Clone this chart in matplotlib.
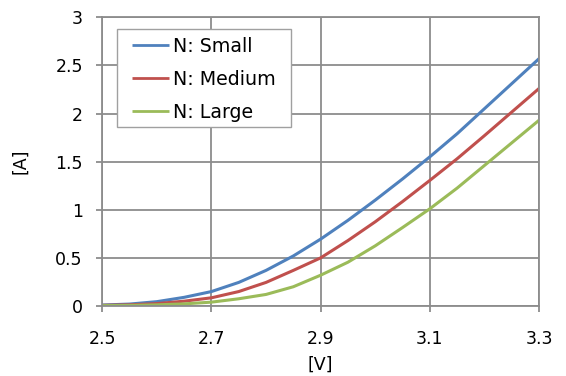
import numpy as np
import matplotlib.pyplot as plt
from matplotlib.patches import Rectangle

# values
voltage = [2.50, 2.55, 2.60, 2.65, 2.70, 2.75, 2.80, 2.85, 2.90, 2.95,
           3.00, 3.05, 3.10, 3.15, 3.20, 3.25, 3.30]
current_small = [0.01, 0.02, 0.045, 0.09, 0.15, 0.245, 0.37, 0.52, 0.695, 0.89,
                 1.10, 1.32, 1.55, 1.79, 2.05, 2.31, 2.57]
current_medium = [0.007, 0.012, 0.025, 0.05, 0.085, 0.15, 0.245, 0.37, 0.50, 0.68,
                  0.875, 1.085, 1.305, 1.53, 1.77, 2.015, 2.26]
current_large = [0.004, 0.006, 0.012, 0.022, 0.04, 0.075, 0.12, 0.20, 0.32, 0.455,
                 0.625, 0.815, 1.01, 1.225, 1.46, 1.695, 1.93]

series = [
    ("N: Small", current_small, "#4F81BD"),
    ("N: Medium", current_medium, "#C0504D"),
    ("N: Large", current_large, "#9BBB59"),
]

grid_color = "#8C8C8C"
tick_size = 12.5
legend_size = 13.7

plt.rcParams["font.family"] = ["DejaVu Sans"]

fig = plt.figure(figsize=(5.66, 3.76), dpi=100)
ax = fig.add_axes([0.1807, 0.1862, 0.7716, 0.7678])

for label, values, color in series:
    ax.plot(voltage, values, color=color, linewidth=2.2, label=label,
            solid_capstyle="butt")

ax.set_xlim(2.5, 3.3)
ax.set_ylim(0, 3)
ax.set_xticks([2.5, 2.7, 2.9, 3.1, 3.3])
ax.set_xticklabels(["2.5", "2.7", "2.9", "3.1", "3.3"])
ax.set_yticks([0, 0.5, 1, 1.5, 2, 2.5, 3])
ax.set_yticklabels(["0", "0.5", "1", "1.5", "2", "2.5", "3"])

ax.grid(True, color=grid_color, linewidth=1.3)
ax.set_axisbelow(True)
for spine in ax.spines.values():
    spine.set_color(grid_color)
    spine.set_linewidth(1.3)

ax.tick_params(axis="both", colors=grid_color, labelcolor="black",
               labelsize=tick_size, direction="out", length=4, width=1.3)
ax.tick_params(axis="x", pad=13)
ax.tick_params(axis="y", pad=10)

ax.set_xlabel("[V]", fontsize=tick_size, labelpad=6)
ax.set_ylabel("[A]", fontsize=tick_size, labelpad=19)

# legend box drawn separately so its padding can differ left/right vs top/bottom
ax.add_patch(Rectangle((0.0337, 0.620), 0.3984, 0.3395, transform=ax.transAxes,
                       facecolor="white", edgecolor="#A0A0A0", linewidth=1.0,
                       zorder=4.5))
leg = ax.legend(loc="upper left", bbox_to_anchor=(0.068, 0.932),
                fontsize=legend_size, frameon=False, handlelength=1.95,
                handletextpad=0.2, labelspacing=0.74, borderpad=0,
                borderaxespad=0)
leg.set_zorder(5)
for line in leg.get_lines():
    line.set_linewidth(2.0)

fig.savefig("out.png", dpi=100)
plt.close(fig)
